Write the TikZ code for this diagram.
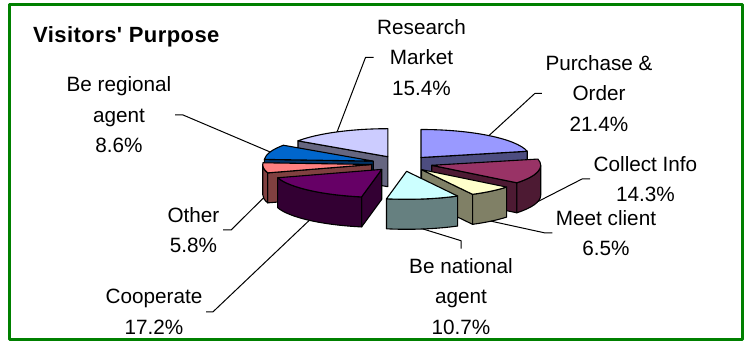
\documentclass[tikz,border=0pt]{standalone}
\usepackage{fontspec}
\setmainfont{Liberation Sans}
\newfontfamily\titlefam{Liberation Sans}[Ligatures=ResetAll,LetterSpace=2]
\usetikzlibrary{calc}
\definecolor{frameGreen}{RGB}{0,128,0}
\definecolor{purTop}{HTML}{9999FF}
\definecolor{purSide}{HTML}{4D4D80}
\definecolor{colTop}{HTML}{993366}
\definecolor{colSide}{HTML}{4D1A33}
\definecolor{meetTop}{HTML}{FFFFCC}
\definecolor{meetSide}{HTML}{808066}
\definecolor{natTop}{HTML}{CCFFFF}
\definecolor{natSide}{HTML}{668080}
\definecolor{coopTop}{HTML}{660066}
\definecolor{coopSide}{HTML}{330033}
\definecolor{othTop}{HTML}{FF8080}
\definecolor{othSide}{HTML}{804040}
\definecolor{regTop}{HTML}{0066CC}
\definecolor{regSide}{HTML}{003366}
\definecolor{resTop}{HTML}{CCCCFF}
\definecolor{resSide}{HTML}{666680}
\begin{document}
\begin{tikzpicture}[x=1pt, y=1pt, line join=round,
		slice/.style={draw=black, line width=1.1pt},
		lab/.style={align=center, inner sep=3.5pt, font=\fontsize{20.7}{30.5}\selectfont},
		leader/.style={line width=1pt}]
		\useasboundingbox (0,0) rectangle (745,342);
		\draw[frameGreen, line width=3pt] (9.5,2) rectangle (742.5,337.5);
		\coordinate (aRes)  at (387.8,185.3);
		\coordinate (aPur)  at (421.0,184.5);
		\coordinate (aReg)  at (373.2,180.9);
		\coordinate (aCol)  at (431.7,176.7);
		\coordinate (aOth)  at (371.7,177.5);
		\coordinate (aMeet) at (421.5,172.4);
		\coordinate (aCoop) at (381.7,172.6);
		\coordinate (aNat)  at (406.6,170.7);
		% back slices first
		\filldraw[slice, fill=resSide] (aRes) -- ++(-214.5:109 and 28) -- ++(0,-30) -- ([yshift=-30pt]aRes) -- cycle;
		\filldraw[slice, fill=resTop] (aRes) -- ++(-214.5:109 and 28) arc[start angle=-214.5, end angle=-270, x radius=109pt, y radius=28pt] -- cycle;
		\filldraw[slice, fill=purSide] (aPur) -- ++(12.88:109 and 28) -- ++(0,-30) -- ([yshift=-30pt]aPur) -- cycle;
		\filldraw[slice, fill=purTop] (aPur) -- ++(90:109 and 28) arc[start angle=90, end angle=12.88, x radius=109pt, y radius=28pt] -- cycle;
		\filldraw[slice, fill=regSide] (aReg) -- ++(-183.51:109 and 28) -- ++(0,-30) -- ([yshift=-30pt]aReg) -- cycle;
		\filldraw[slice, fill=regTop] (aReg) -- ++(-183.51:109 and 28) arc[start angle=-183.51, end angle=-214.5, x radius=109pt, y radius=28pt] -- cycle;
		\filldraw[slice, fill=colSide] (aCol) -- ++(-38.65:109 and 28) -- ++(0,-30) -- ([yshift=-30pt]aCol) -- cycle;
		\filldraw[slice, fill=colSide] (aCol) ++(-38.65:109 and 28) arc[start angle=-38.65, end angle=0, x radius=109pt, y radius=28pt] -- ++(0,-30) arc[start angle=0, end angle=-38.65, x radius=109pt, y radius=28pt] -- cycle;
		\filldraw[slice, fill=colTop] (aCol) -- ++(12.88:109 and 28) arc[start angle=12.88, end angle=-38.65, x radius=109pt, y radius=28pt] -- cycle;
		\filldraw[slice, fill=othSide] (aOth) -- ++(-162.61:109 and 28) -- ++(0,-30) -- ([yshift=-30pt]aOth) -- cycle;
		\filldraw[slice, fill=othSide] (aOth) ++(-180:109 and 28) arc[start angle=-180, end angle=-162.61, x radius=109pt, y radius=28pt] -- ++(0,-30) arc[start angle=-162.61, end angle=-180, x radius=109pt, y radius=28pt] -- cycle;
		\filldraw[slice, fill=othTop] (aOth) -- ++(-162.61:109 and 28) arc[start angle=-162.61, end angle=-183.51, x radius=109pt, y radius=28pt] -- cycle;
		\filldraw[slice, fill=meetSide] (aMeet) -- ++(-62.07:109 and 28) -- ++(0,-30) -- ([yshift=-30pt]aMeet) -- cycle;
		\filldraw[slice, fill=meetSide] (aMeet) ++(-62.07:109 and 28) arc[start angle=-62.07, end angle=-38.65, x radius=109pt, y radius=28pt] -- ++(0,-30) arc[start angle=-38.65, end angle=-62.07, x radius=109pt, y radius=28pt] -- cycle;
		\filldraw[slice, fill=meetTop] (aMeet) -- ++(-38.65:109 and 28) arc[start angle=-38.65, end angle=-62.07, x radius=109pt, y radius=28pt] -- cycle;
		\filldraw[slice, fill=coopSide] (aCoop) -- ++(-100.63:109 and 28) -- ++(0,-30) -- ([yshift=-30pt]aCoop) -- cycle;
		\filldraw[slice, fill=coopSide] (aCoop) ++(-162.61:109 and 28) arc[start angle=-162.61, end angle=-100.63, x radius=109pt, y radius=28pt] -- ++(0,-30) arc[start angle=-100.63, end angle=-162.61, x radius=109pt, y radius=28pt] -- cycle;
		\filldraw[slice, fill=coopTop] (aCoop) -- ++(-100.63:109 and 28) arc[start angle=-100.63, end angle=-162.61, x radius=109pt, y radius=28pt] -- cycle;
		\filldraw[slice, fill=natSide] (aNat) ++(-100.63:109 and 28) arc[start angle=-100.63, end angle=-62.07, x radius=109pt, y radius=28pt] -- ++(0,-30) arc[start angle=-62.07, end angle=-100.63, x radius=109pt, y radius=28pt] -- cycle;
		\filldraw[slice, fill=natTop] (aNat) -- ++(-62.07:109 and 28) arc[start angle=-62.07, end angle=-100.63, x radius=109pt, y radius=28pt] -- cycle;
		% leader ends on the rims
		\path (aRes) ++(-242.25:109 and 28) coordinate (eRes);
		\path (aPur) ++(51.44:109 and 28) coordinate (ePur);
		\path (aReg) ++(-199:109 and 28) coordinate (eReg);
		\path (aCol) ++(-12.885:109 and 28) ++(0,-30) coordinate (eCol);
		\path (aOth) ++(-173.06:109 and 28) ++(0,-30) coordinate (eOth);
		\path (aMeet) ++(-50.36:109 and 28) ++(0,-30) coordinate (eMeet);
		\path (aCoop) ++(-131.62:109 and 28) ++(0,-30) coordinate (eCoop);
		\path (aNat) ++(-81.35:109 and 28) ++(0,-30) coordinate (eNat);
		\node[anchor=west, inner sep=0pt, font=\titlefam\bfseries\fontsize{22}{26}\selectfont] (title) at (33,305) {Visitors' Purpose};
		\node[lab] (lRes)  at (421.5,284.5) {Research\\Market\\15.4\%};
		\node[lab] (lPur)  at (599,248.5) {Purchase \&\\Order\\21.4\%};
		\node[lab] (lReg)  at (119,227) {Be regional\\agent\\8.6\%};
		\node[lab] (lCol)  at (645.5,163) {Collect Info\\14.3\%};
		\node[lab] (lMeet) at (606,109) {Meet client\\6.5\%};
		\node[lab] (lNat)  at (461,45.5) {Be national\\agent\\10.7\%};
		\node[lab] (lOth)  at (193.5,112) {Other\\5.8\%};
		\node[lab] (lCoop) at (154,30.2) {Cooperate\\17.2\%};
		\draw[leader] (lRes.west) -- ++(-8,0) -- (eRes);
		\draw[leader] (lPur.west) -- ++(-7,0) -- (ePur);
		\draw[leader] (lReg.east) -- ++(8,0) -- (eReg);
		\draw[leader] (lCol.west) -- ++(-8,0) -- (eCol);
		\draw[leader] (lMeet.west) -- ++(-7,0) -- (eMeet);
		\draw[leader] (lOth.east) -- ++(8,0) -- (eOth);
		\draw[leader] (lCoop.east) -- ++(7,0) -- (eCoop);
		\draw[leader] ([yshift=6pt]lNat.north) -- ++(0,8) -- (eNat);
	\end{tikzpicture}
\end{document}
